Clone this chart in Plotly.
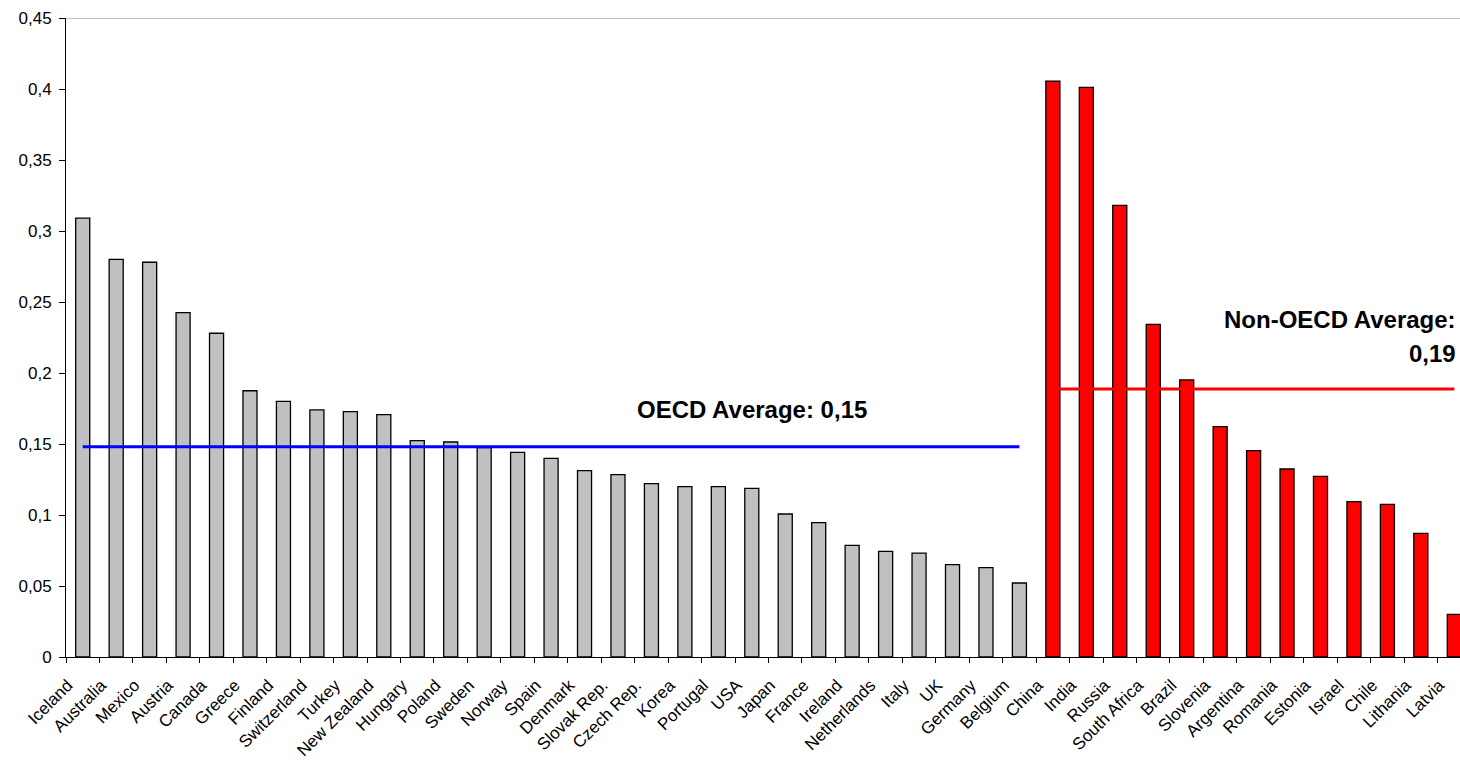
import plotly.graph_objects as go

oecd_countries = ["Iceland", "Australia", "Mexico", "Austria", "Canada", "Greece", "Finland",
                  "Switzerland", "Turkey", "New Zealand", "Hungary", "Poland", "Sweden", "Norway",
                  "Spain", "Denmark", "Slovak Rep.", "Czech Rep.", "Korea", "Portugal", "USA",
                  "Japan", "France", "Ireland", "Netherlands", "Italy", "UK", "Germany", "Belgium"]
oecd_values = [0.309, 0.280, 0.278, 0.2425, 0.228, 0.1875, 0.180, 0.174, 0.1728, 0.1707,
               0.1524, 0.1514, 0.1474, 0.1441, 0.1399, 0.1312, 0.1284, 0.1221, 0.1200, 0.1200,
               0.1188, 0.1007, 0.0946, 0.0786, 0.0744, 0.0732, 0.0650, 0.0629, 0.0521]

non_oecd_countries = ["China", "India", "Russia", "South Africa", "Brazil", "Slovenia", "Argentina",
                      "Romania", "Estonia", "Israel", "Chile", "Lithania", "Latvia"]
non_oecd_values = [0.4056, 0.4012, 0.3181, 0.2343, 0.1951, 0.1622, 0.1453, 0.1324, 0.1272,
                   0.1094, 0.1075, 0.0871, 0.0300]

oecd_avg = 0.148
non_oecd_avg = 0.1887
y_ticks = [0, 0.05, 0.1, 0.15, 0.2, 0.25, 0.3, 0.35, 0.4, 0.45]

categories = oecd_countries + non_oecd_countries
FONT = "Liberation Sans, Arial, sans-serif"
X_RANGE = [-0.5, 41.17]
LABEL_SHIFT = 0.45  # labels sit slightly left of the bar centres, as in the original

fig = go.Figure()
fig.add_trace(go.Bar(x=oecd_countries, y=oecd_values,
                     marker=dict(color="#C0C0C0", line=dict(color="black", width=1.3)),
                     showlegend=False))
fig.add_trace(go.Bar(x=non_oecd_countries, y=non_oecd_values,
                     marker=dict(color="#FF0000", line=dict(color="black", width=1.3)),
                     showlegend=False))
fig.add_trace(go.Scatter(x=[oecd_countries[0], oecd_countries[-1]], y=[oecd_avg, oecd_avg],
                         mode="lines", line=dict(color="#0000FF", width=3), showlegend=False))
fig.add_trace(go.Scatter(x=[non_oecd_countries[0], non_oecd_countries[-1]],
                         y=[non_oecd_avg, non_oecd_avg],
                         mode="lines", line=dict(color="#FF0000", width=3), showlegend=False))
# invisible carrier trace for the category label axis
fig.add_trace(go.Scatter(x=categories, y=oecd_values + non_oecd_values, xaxis="x2",
                         mode="markers", marker=dict(opacity=0), hoverinfo="skip",
                         showlegend=False))

fig.add_annotation(x=20, y=0.174, xref="x", yref="y", text="<b>OECD Average: 0,15</b>",
                   showarrow=False, xanchor="center", yanchor="middle",
                   font=dict(family=FONT, size=24, color="black"))
fig.add_annotation(x=0.9986, y=0.238, xref="paper", yref="y", text="<b>Non-OECD Average:</b>",
                   showarrow=False, xanchor="right", yanchor="middle",
                   font=dict(family=FONT, size=24, color="black"))
fig.add_annotation(x=0.9986, y=0.2139, xref="paper", yref="y", text="<b>0,19</b>",
                   showarrow=False, xanchor="right", yanchor="middle",
                   font=dict(family=FONT, size=24, color="black"))

fig.add_shape(type="line", xref="paper", yref="y", x0=0, x1=1, y0=0.45, y1=0.45,
              line=dict(color="#808080", width=1))

fig.update_layout(
    width=1460, height=762,
    margin=dict(l=66, r=0, t=18, b=105),
    paper_bgcolor="white", plot_bgcolor="white",
    barmode="overlay", bargap=0.58,
    separators=",.",
    font=dict(family=FONT, size=16, color="black"),
    xaxis=dict(type="category", categoryorder="array", categoryarray=categories,
               range=X_RANGE, showline=True, linecolor="black", linewidth=1,
               ticks="outside", tickson="boundaries", ticklen=5, tickcolor="black",
               showticklabels=False, showgrid=False, automargin=False),
    xaxis2=dict(type="category", categoryorder="array", categoryarray=categories,
                range=[X_RANGE[0] + LABEL_SHIFT, X_RANGE[1] + LABEL_SHIFT],
                overlaying="x", anchor="y", side="bottom", showline=False, ticks="",
                tickangle=-45, showgrid=False, automargin=False,
                tickfont=dict(family=FONT, size=17), ticklabelstandoff=14),
    yaxis=dict(range=[0, 0.45], tickvals=y_ticks, showline=True, linecolor="black",
               linewidth=1, ticks="outside", ticklen=6, tickcolor="black",
               showgrid=False, zeroline=False, tickfont=dict(family=FONT, size=17),
               ticklabelstandoff=4, automargin=False),
)

fig.write_html("out.html")
